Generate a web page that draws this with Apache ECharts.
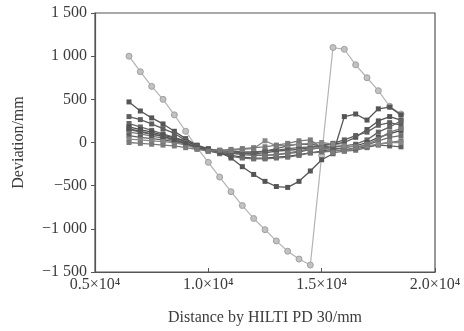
<!DOCTYPE html>
<html>
<head>
<meta charset="utf-8">
<script src="https://cdn.jsdelivr.net/npm/echarts@6/dist/echarts.min.js"></script>
<style>
  html, body { margin: 0; padding: 0; background: #fff; }
  #chart { width: 464px; height: 331px; }
</style>
</head>
<body>
<div id="chart"></div>
<script>
// distance (mm) of each measuring point
const xValues = [6500, 7000, 7500, 8000, 8500, 9000, 9500, 10000, 10500, 11000, 11500, 12000, 12500,
  13000, 13500, 14000, 14500, 15000, 15500, 16000, 16500, 17000, 17500, 18000, 18500];

// light grey run (big swing)
const lightRun = [1000, 820, 650, 500, 320, 130, -60, -230, -400, -570, -730, -880, -1010,
  -1140, -1260, -1350, -1420, -150, 1100, 1080, 900, 750, 600, 420, 330];

// dark grey runs
const run1 = [470, 365, 285, 215, 130, 45, -35, -90, -100, -110, -120, -130, -120, -100, -90, -80, -60, -40, -20, 0, 60, 150, 250, 300, 260];
const run2 = [300, 265, 215, 160, 105, 25, -40, -80, -90, -100, -110, -110, -100, -90, -70, -60, -50, -30, -10, 30, 80, 120, 200, 230, 200];
const run3 = [220, 180, 140, 100, 60, 20, -30, -70, -100, -120, -140, -150, -150, -140, -130, -110, -80, -60, -50, -40, -20, 30, 120, 180, 250];
const run4 = [180, 150, 120, 85, 50, 10, -40, -80, -120, -150, -170, -180, -180, -170, -160, -140, -120, -100, -80, -60, -40, 0, 60, 100, 140];
const run5 = [150, 120, 95, 70, 40, 0, -50, -90, -130, -160, -180, -190, -190, -180, -170, -150, -120, -110, -100, -90, -60, -30, 20, 60, 80];
const run6 = [120, 100, 75, 50, 25, -10, -60, -100, -110, -120, -130, -140, -150, -140, -120, -100, -70, -60, -80, -100, -90, -60, -20, 0, 20];
const run7 = [80, 60, 45, 30, 10, -20, -60, -100, -120, -130, -130, -120, -100, -70, -40, -20, -20, -40, -60, -80, -70, -50, -30, -40, -50];
const run8 = [40, 30, 20, 10, 0, -30, -70, -100, -100, -90, -80, -70, 20, -40, -30, -20, -10, 0, -20, -40, -50, -40, -20, 0, 0];
const run9 = [160, 130, 100, 70, 30, -10, -60, -90, -110, -180, -280, -370, -450, -510, -520, -450, -330, -200, -130, 300, 330, 260, 390, 410, 320];
const run10 = [0, -10, -20, -30, -40, -60, -80, -100, -90, -80, -70, -60, -50, -30, -10, 20, 30, -60, -120, -100, -60, -20, 40, 120, 160];

const darkRuns = [run1, run2, run3, run4, run5, run6, run7, run8, run9, run10];
const darkColors = ["#555", "#5e5e5e", "#666", "#4e4e4e", "#707070", "#777", "#606060", "#888", "#555", "#7a7a7a"];

const xTickLabels = { 5000: "0.5×10⁴", 10000: "1.0×10⁴", 15000: "1.5×10⁴", 20000: "2.0×10⁴" };

const chart = echarts.init(document.getElementById("chart"), null, { renderer: "canvas" });

const font = "Liberation Serif";
const textColor = "#3c3c3c";
const pair = (vals) => xValues.map((x, i) => [x, vals[i]]);

const series = [
  {
    type: "line",
    data: pair(lightRun),
    symbol: "circle",
    symbolSize: 6,
    lineStyle: { color: "#b3b3b3", width: 1.2 },
    itemStyle: { color: "#c2c2c2", borderColor: "#a0a0a0", borderWidth: 1 },
    z: 2,
  },
];
darkRuns.forEach((vals, i) => {
  series.push({
    type: "line",
    data: pair(vals),
    symbol: "rect",
    symbolSize: 5,
    lineStyle: { color: darkColors[i], width: 1.3 },
    itemStyle: { color: darkColors[i] },
    z: 3,
  });
});

const option = {
  backgroundColor: "#fff",
  animation: false,
  grid: {
    left: 95,
    right: 29,
    top: 13,
    bottom: 59,
    show: true,
    borderColor: "#555",
    borderWidth: 1.2,
  },
  xAxis: {
    type: "value",
    min: 5000,
    max: 20000,
    interval: 5000,
    name: "Distance by HILTI PD 30/mm",
    nameLocation: "middle",
    nameGap: 38,
    nameTextStyle: { fontFamily: font, fontSize: 16, color: textColor },
    axisLine: { onZero: false, lineStyle: { color: "#555", width: 1.2 } },
    axisTick: { inside: true, length: 4, lineStyle: { color: "#555" } },
    splitLine: { show: false },
    axisLabel: {
      fontFamily: font,
      fontSize: 16,
      color: textColor,
      margin: 5,
      formatter: (v) => xTickLabels[v] || "",
    },
  },
  yAxis: {
    type: "value",
    min: -1500,
    max: 1500,
    interval: 500,
    name: "Deviation/mm",
    nameLocation: "middle",
    nameRotate: 90,
    nameGap: 68,
    nameTextStyle: { fontFamily: font, fontSize: 16, color: textColor },
    axisLine: { show: true, onZero: false, lineStyle: { color: "#555", width: 1.2 } },
    axisTick: { show: true, inside: false, length: 4, lineStyle: { color: "#555" } },
    splitLine: { show: false },
    axisLabel: {
      fontFamily: font,
      fontSize: 16,
      color: textColor,
      margin: 8,
      formatter: (v) => {
        const a = Math.abs(v);
        const s = a >= 1000 ? Math.floor(a / 1000) + " " + String(a % 1000).padStart(3, "0") : String(a);
        return (v < 0 ? "−" : "") + s;
      },
    },
  },
  series: series,
};

chart.setOption(option);
</script>
</body>
</html>
